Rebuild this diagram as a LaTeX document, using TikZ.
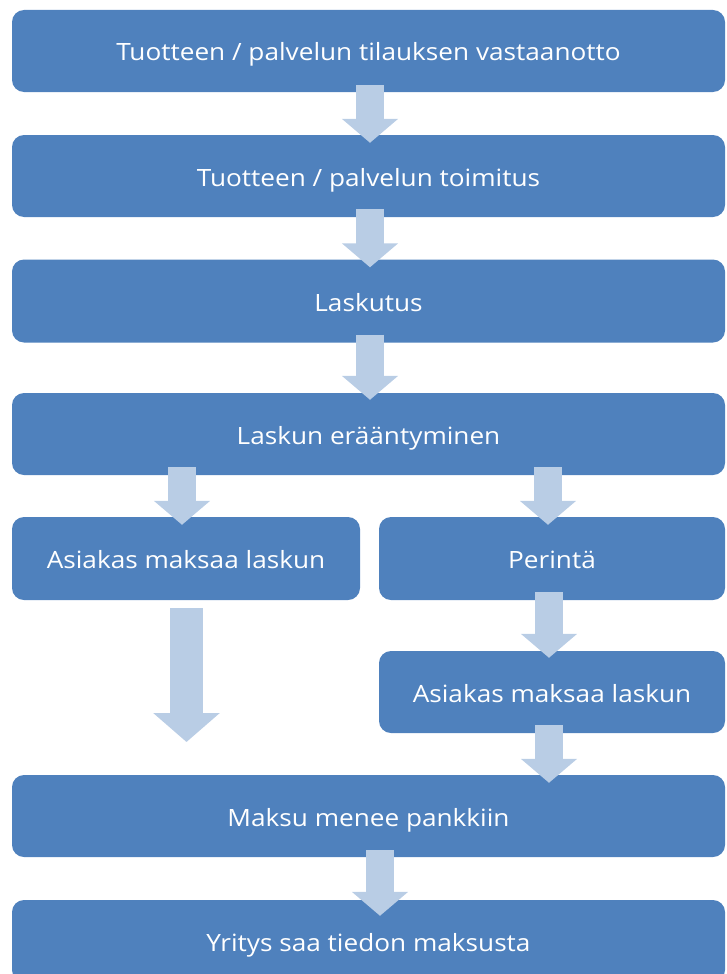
\documentclass[tikz,border=0pt]{standalone}
\usepackage{fontspec}
\setmainfont[FakeStretch=1.1]{Open Sans}
\usetikzlibrary{arrows.meta,calc}
\definecolor{boxblue}{HTML}{4F81BD}
\definecolor{arrowblue}{HTML}{B9CDE5}
\tikzset{
  box/.style={fill=boxblue, draw=none, rounded corners=12pt, inner sep=0pt,
    text=white, font=\fontsize{23.8}{28}\selectfont,
    text height=20pt, text depth=0pt},
  barrow/.style={draw=arrowblue, line width=28pt,
    -{Triangle[width=55pt,length=24pt]}},
  bigarrow/.style={draw=arrowblue, line width=33pt,
    -{Triangle[width=65pt,length=29pt]}}
}
\begin{document}
\begin{tikzpicture}[x=1pt,y=-1pt]
\useasboundingbox (0,0) rectangle (726,974);
\clip (0,0) rectangle (726,974);
\node[box, minimum width=713pt, minimum height=82pt] (b1) at (368.5,51) {Tuotteen / palvelun tilauksen vastaanotto};
\node[box, minimum width=713pt, minimum height=82pt] (b2) at (368.5,176) {Tuotteen / palvelun toimitus};
\node[box, minimum width=713pt, minimum height=83pt] (b3) at (368.5,301) {Laskutus};
\node[box, minimum width=713pt, minimum height=82pt] (b4) at (368.5,434) {Laskun erääntyminen};
\node[box, minimum width=348pt, minimum height=83pt] (b5) at (186,558.5) {Asiakas maksaa laskun};
\node[box, minimum width=346pt, minimum height=83pt] (b6) at (552,558.5) {Perintä};
\node[box, minimum width=346pt, minimum height=82pt] (b7) at (552,692) {Asiakas maksaa laskun};
\node[box, minimum width=713pt, minimum height=82pt] (b8) at (368.5,816) {Maksu menee pankkiin};
\node[box, minimum width=713pt, minimum height=82pt] (b9) at (368.5,941) {Yritys saa tiedon maksusta};
\coordinate (e5) at (186.5,742);
% arrows
\draw[barrow] ($(b1.south)+(1.5,-7)$) -- ($(b2.north)+(1.5,8)$);
\draw[barrow] ($(b2.south)+(1.5,-8)$) -- ($(b3.north)+(1.5,8)$);
\draw[barrow] ($(b3.south)+(1.5,-8)$) -- ($(b4.north)+(1.5,7)$);
\draw[barrow] ($(b4.south)+(-186.5,-8)$) -- ($(b5.north)+(-4,8)$);
\draw[barrow] ($(b4.south)+(179.5,-8)$) -- ($(b6.north)+(-4,8)$);
\draw[bigarrow] ($(b5.south)+(0.5,8)$) -- (e5);
\draw[barrow] ($(b6.south)+(-3,-8)$) -- ($(b7.north)+(-3,7)$);
\draw[barrow] ($(b7.south)+(-3,-8)$) -- ($(b8.north)+(180.5,8)$);
\draw[barrow] ($(b8.south)+(11.5,-7)$) -- ($(b9.north)+(11.5,16)$);
\end{tikzpicture}
\end{document}
